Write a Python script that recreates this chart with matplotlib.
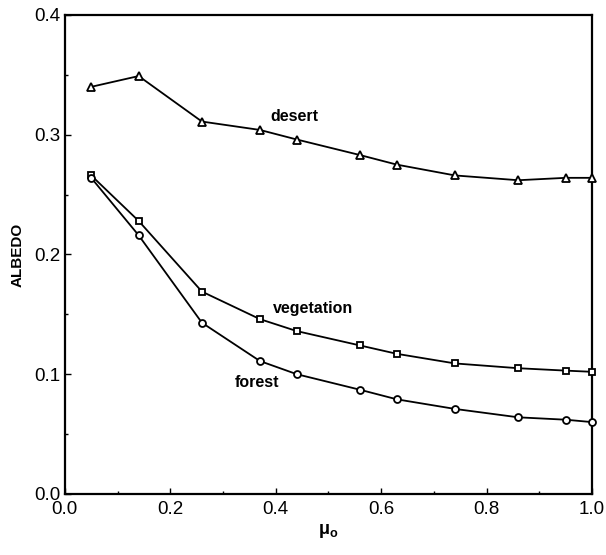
import numpy as np
import matplotlib.pyplot as plt

plt.rcParams['font.family'] = ['Liberation Sans', 'DejaVu Sans']

mu = [0.05, 0.14, 0.26, 0.37, 0.44, 0.56, 0.63, 0.74, 0.86, 0.95, 1.0]
desert = [0.340, 0.349, 0.311, 0.304, 0.296, 0.283, 0.275, 0.266, 0.262, 0.264, 0.264]
vegetation = [0.266, 0.228, 0.169, 0.146, 0.136, 0.124, 0.117, 0.109, 0.105, 0.103, 0.102]
forest = [0.264, 0.216, 0.143, 0.111, 0.100, 0.087, 0.079, 0.071, 0.064, 0.062, 0.060]

fig = plt.figure(figsize=(6.06, 5.55), dpi=100)
ax = fig.add_axes([0.107, 0.11, 0.870, 0.863])

kw = dict(color='black', lw=1.3, mfc='white', mec='black', mew=1.3, clip_on=False, zorder=3)
ax.plot(mu, desert, marker='^', ms=5.5, **kw)
ax.plot(mu, vegetation, marker='s', ms=5, **kw)
ax.plot(mu, forest, marker='o', ms=5, **kw)

ax.text(0.39, 0.315, 'desert', fontsize=11.5, fontweight='bold', va='center')
ax.text(0.395, 0.155, 'vegetation', fontsize=11.5, fontweight='bold', va='center')
ax.text(0.322, 0.093, 'forest', fontsize=11.5, fontweight='bold', va='center')

ax.set_xlim(0, 1.0)
ax.set_ylim(0, 0.4)
ax.set_xticks(np.arange(0, 1.01, 0.2))
ax.set_xticks(np.arange(0, 1.01, 0.1), minor=True)
ax.set_yticks(np.arange(0, 0.41, 0.1))
ax.set_yticks(np.arange(0, 0.41, 0.05), minor=True)
ax.xaxis.set_major_formatter(plt.FormatStrFormatter('%.1f'))
ax.yaxis.set_major_formatter(plt.FormatStrFormatter('%.1f'))
ax.tick_params(which='both', direction='in', labelsize=13.5, width=1)
ax.tick_params(axis='x', pad=5)
ax.tick_params(axis='y', pad=3)
ax.tick_params(which='major', length=4)
ax.tick_params(which='minor', length=2)
for s in ax.spines.values():
    s.set_linewidth(1.6)

ax.set_ylabel('ALBEDO', fontsize=11, fontweight='bold', labelpad=7)
ax.set_xlabel(r'$\mathregular{\mu_o}$', fontsize=13, fontweight='bold', labelpad=3)

fig.savefig('out.png', dpi=100)
